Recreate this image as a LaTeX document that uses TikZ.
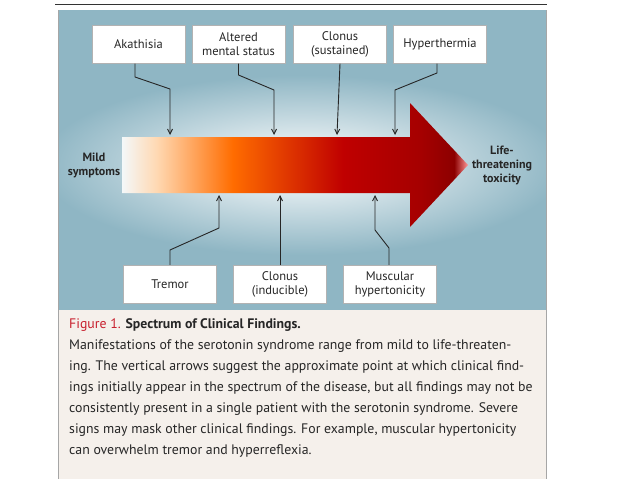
\documentclass[tikz,border=0pt]{standalone}
\usepackage{fontspec}
\setmainfont{PT Sans}
\usetikzlibrary{positioning,arrows.meta}

\definecolor{panelblue}{HTML}{8FB6C4}
\definecolor{capbg}{HTML}{F5F0EB}
\definecolor{figred}{HTML}{C8202E}
\pgfdeclarehorizontalshading{heat}{100bp}{color(0bp)=(white); color(25bp)=(white!90!panelblue); color(30bp)=(white!70!orange); color(41bp)=(orange!85!red); color(57bp)=(red!75!black); color(68bp)=(red!65!black); color(73bp)=(red!55!black); color(75bp)=(red!40!white); color(100bp)=(red!40!white)}

\tikzset{
  finding/.style={draw=gray!60, fill=white, minimum width=93pt, minimum height=38pt, align=center, inner sep=1pt, font=\fontsize{12.5}{14}\selectfont, text=black!85},
  pointer/.style={-{Straight Barb[length=5pt,width=5pt]}, black!85, line width=0.9pt},
  endlabel/.style={align=center, font=\bfseries\fontsize{12}{14}\selectfont, text=black!85}
}

\begin{document}
\begin{tikzpicture}[x=1pt, y=-1pt]
\useasboundingbox (0,0) rectangle (638,479);
\fill[white] (0,0) rectangle (638,479);

% rule and panel
\draw[black!80, line width=0.8pt] (55,4) -- (547,4);
\fill[panelblue] (58,10) rectangle (546,310);
\begin{scope}
  \clip (58,10) rectangle (546,310);
  \shade[inner color=white, outer color=panelblue] (40,75) rectangle (564,255);
\end{scope}

% caption box
\fill[capbg] (58,310) rectangle (546,479);
\draw[gray!70, line width=0.8pt] (58,10) -- (58,479) (546,10) -- (546,479);

% the spectrum arrow
\shade[shading=heat] (122,137) -- (410,137) -- (410,103) -- (468,165)
  -- (410,227) -- (410,193) -- (122,193) -- cycle;

\node[endlabel] (mild) at (94,165) {Mild\\symptoms};
\node[endlabel] (toxic) at (502,165) {Life-\\threatening\\toxicity};

% findings above
\node[finding] (akath) at (138.5,44.5) {Akathisia};
\node[finding] (mental) at (238.5,44.5) {Altered\\mental status};
\node[finding] (sclonus) at (340,44.5) {Clonus\\(sustained)};
\node[finding] (hyperth) at (440,44.5) {Hyperthermia};

% findings below
\node[finding] (tremor) at (170,284) {Tremor};
\node[finding] (iclonus) at (280,284) {Clonus\\(inducible)};
\node[finding] (muscle) at (390,284) {Muscular\\hypertonicity};

\coordinate (a1) at (170,135);
\coordinate (a2) at (274,135);
\coordinate (a3) at (337,135);
\coordinate (a4) at (395,135);
\coordinate (b1) at (219,195);
\coordinate (b2) at (280,195);
\coordinate (b3) at (375,195);

\draw[pointer] (akath.south -| 135,0) -- (135,77) -- (170,89) -- (a1);
\draw[pointer] (mental.south) -- (238.5,75) -- (274,90) -- (a2);
\draw[pointer] (sclonus.south) -- (a3);
\draw[pointer] (hyperth.south -| 437,0) -- (437,73) -- (395,90) -- (a4);
\draw[pointer] (tremor.north) -- (170,250) -- (219,228) -- (b1);
\draw[pointer] (iclonus.north) -- (b2);
\draw[pointer] (muscle.north -| 389,0) -- (389,248) -- (375,230) -- (b3);

% caption
\node[anchor=north west, align=left, inner sep=0pt,
  font=\fontsize{13.8}{21}\selectfont, text=black!85] (caption) at (69,318)
  {{\color{figred}Figure 1.} \textbf{Spectrum of Clinical Findings.}\\
  Manifestations of the serotonin syndrome range from mild to life-threaten-\\
  ing. The vertical arrows suggest the approximate point at which clinical find-\\
  ings initially appear in the spectrum of the disease, but all findings may not be\\
  consistently present in a single patient with the serotonin syndrome. Severe\\
  signs may mask other clinical findings. For example, muscular hypertonicity\\
  can overwhelm tremor and hyperreflexia.};
\end{tikzpicture}
\end{document}
